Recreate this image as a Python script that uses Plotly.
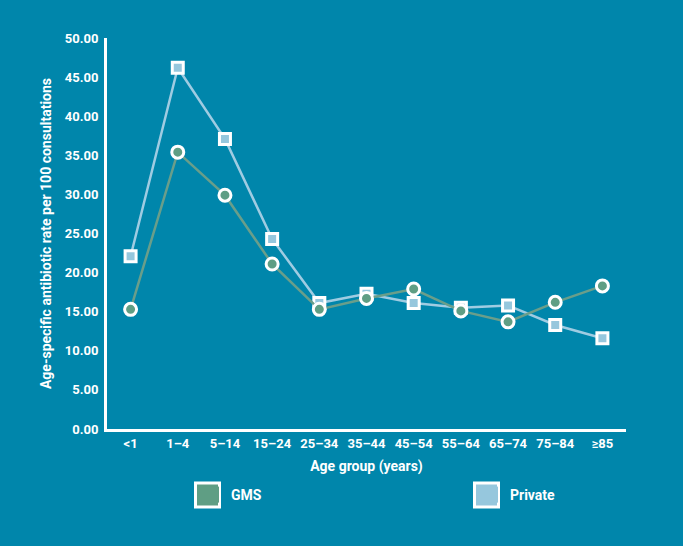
import plotly.graph_objects as go

age_groups = ["<1", "1–4", "5–14", "15–24", "25–34", "35–44", "45–54", "55–64", "65–74", "75–84", "≥85"]
gms = [15.3, 35.4, 29.9, 21.1, 15.3, 16.7, 17.9, 15.1, 13.7, 16.2, 18.3]
private = [22.1, 46.2, 37.1, 24.3, 16.1, 17.3, 16.1, 15.5, 15.8, 13.3, 11.6]
y_ticks = [0, 5, 10, 15, 20, 25, 30, 35, 40, 45, 50]

BG = "#0086AB"
GMS_FILL = "#5F9E84"
GMS_LINE = "#6A9E8A"
PRIV_FILL = "#96C7DD"
PRIV_LINE = "#9FCCE2"
FONT = "Roboto"

L, R, T, B = 107, 57, 38, 117
W, H = 683, 546
PW, PH = W - L - R, H - T - B


def px_x(px):
    return (px - L) / PW


def px_y(py):
    return (H - B - py) / PH


fig = go.Figure()
fig.add_trace(go.Scatter(x=age_groups, y=private, mode="lines+markers", name="Private",
                         line=dict(color=PRIV_LINE, width=2.5),
                         marker=dict(symbol="square", size=11, color=PRIV_FILL,
                                     line=dict(color="white", width=3)),
                         showlegend=False, cliponaxis=False))
fig.add_trace(go.Scatter(x=age_groups, y=gms, mode="lines+markers", name="GMS",
                         line=dict(color=GMS_LINE, width=2.5),
                         marker=dict(symbol="circle", size=12, color=GMS_FILL,
                                     line=dict(color="white", width=3)),
                         showlegend=False, cliponaxis=False))
# legend entries
fig.add_trace(go.Scatter(x=[None], y=[None], mode="markers", name="GMS", legend="legend",
                         marker=dict(symbol="square", size=16, color=GMS_FILL,
                                     line=dict(width=0))))
fig.add_trace(go.Scatter(x=[None], y=[None], mode="markers", name="Private", legend="legend2",
                         marker=dict(symbol="square", size=16, color=PRIV_FILL,
                                     line=dict(width=0))))

# larger legend swatches behind the native legend symbols
for x0, fill in [(195.5, GMS_FILL), (474.5, PRIV_FILL)]:
    fig.add_shape(type="rect", xref="paper", yref="paper",
                  x0=px_x(x0), x1=px_x(x0 + 24), y0=px_y(483), y1=px_y(507),
                  fillcolor=fill, line=dict(color="white", width=3), layer="above")

legend_font = dict(family=FONT, size=14, color="white", weight="bold")
fig.update_layout(
    width=W, height=H,
    paper_bgcolor=BG, plot_bgcolor=BG,
    margin=dict(l=L, r=R, t=T, b=B, autoexpand=False),
    font=dict(family=FONT, color="white", size=13),
    showlegend=True,
    legend=dict(x=px_x(191), xanchor="left", y=px_y(495), yanchor="middle",
                font=legend_font, bgcolor="rgba(0,0,0,0)"),
    legend2=dict(x=px_x(470), xanchor="left", y=px_y(495), yanchor="middle",
                 font=legend_font, bgcolor="rgba(0,0,0,0)"),
    xaxis=dict(type="category", categoryorder="array", categoryarray=age_groups,
               range=[-0.5, 10.5], showgrid=False, zeroline=False,
               showline=True, linecolor="white", linewidth=3, tickangle=0,
               ticks="", tickfont=dict(family=FONT, size=13, color="white", weight="bold"),
               title=dict(text="Age group (years)", standoff=12,
                          font=dict(family=FONT, size=14, color="white", weight="bold"))),
    yaxis=dict(range=[0, 50], tickvals=y_ticks, tickformat=".2f", showgrid=False,
               zeroline=False, showline=True, linecolor="white", linewidth=3,
               ticks="", ticklabelstandoff=3,
               tickfont=dict(family=FONT, size=13, color="white", weight="bold"),
               title=dict(text="Age-specific antibiotic rate per 100 consultations", standoff=10,
                          font=dict(family=FONT, size=14, color="white", weight="bold"))),
)

fig.write_html("out.html", config={"displayModeBar": False},
               post_script="document.body.style.margin='0';")
